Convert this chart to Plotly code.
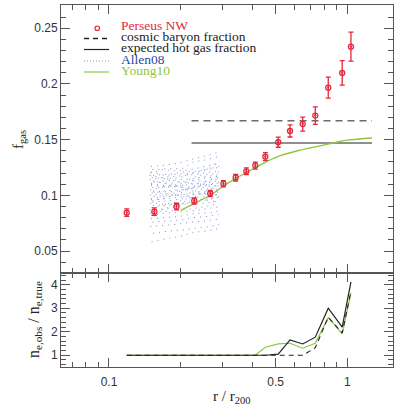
import plotly.graph_objects as go

# ---------------- data ----------------
R_NW = [0.1187, 0.155, 0.192, 0.228, 0.266, 0.302, 0.340, 0.377, 0.411, 0.453,
        0.513, 0.575, 0.650, 0.734, 0.832, 0.952, 1.036]
FGAS_NW = [0.0845, 0.0854, 0.0899, 0.0950, 0.1017, 0.1105, 0.1159, 0.1216, 0.1267,
           0.1347, 0.1477, 0.1578, 0.1640, 0.1716, 0.1967, 0.2099, 0.2335]
FGAS_ERR = [0.0033, 0.0033, 0.003, 0.0028, 0.0028, 0.0028, 0.003, 0.003, 0.0032,
            0.0036, 0.0045, 0.0054, 0.0063, 0.0078, 0.0094, 0.011, 0.013]

FLAT_R = [0.222, 1.27]
COSMIC_F = 0.167
HOTGAS_F = 0.147

YOUNG_R = [0.20, 0.23, 0.27, 0.30, 0.34, 0.38, 0.42, 0.46, 0.52, 0.63, 0.75, 0.87, 1.0, 1.27]
YOUNG_F = [0.0865, 0.093, 0.101, 0.108, 0.115, 0.121, 0.126, 0.1305, 0.1355, 0.1405,
           0.144, 0.147, 0.1495, 0.1515]

# Allen08 cluster profiles (radius points and f_gas per cluster)
ALLEN_R = [
    [0.150, 0.171, 0.196, 0.231, 0.262, 0.291],
    [0.152, 0.176, 0.203, 0.226, 0.258, 0.288],
    [0.149, 0.168, 0.192, 0.219, 0.254, 0.294],
    [0.153, 0.179, 0.207, 0.236, 0.266, 0.290],
    [0.151, 0.173, 0.199, 0.228, 0.260, 0.286],
    [0.148, 0.166, 0.188, 0.214, 0.249, 0.292],
    [0.154, 0.181, 0.210, 0.239, 0.269, 0.289],
    [0.150, 0.170, 0.195, 0.224, 0.257, 0.295],
]
ALLEN_F = [
    [0.126, 0.127, 0.129, 0.133, 0.136, 0.139],
    [0.123, 0.124, 0.124, 0.130, 0.132, 0.135],
    [0.120, 0.123, 0.122, 0.123, 0.126, 0.129],
    [0.118, 0.119, 0.121, 0.122, 0.124, 0.126],
    [0.116, 0.115, 0.116, 0.121, 0.123, 0.125],
    [0.114, 0.116, 0.117, 0.118, 0.120, 0.122],
    [0.112, 0.111, 0.113, 0.118, 0.119, 0.121],
    [0.111, 0.113, 0.114, 0.115, 0.117, 0.119],
    [0.109, 0.108, 0.110, 0.114, 0.116, 0.117],
    [0.107, 0.108, 0.109, 0.113, 0.113, 0.116],
    [0.105, 0.107, 0.108, 0.110, 0.112, 0.115],
    [0.104, 0.103, 0.105, 0.109, 0.110, 0.112],
    [0.102, 0.104, 0.105, 0.107, 0.109, 0.111],
    [0.100, 0.101, 0.102, 0.106, 0.107, 0.109],
    [0.099, 0.100, 0.101, 0.105, 0.106, 0.108],
    [0.097, 0.099, 0.100, 0.102, 0.104, 0.106],
    [0.096, 0.097, 0.098, 0.101, 0.102, 0.104],
    [0.094, 0.095, 0.097, 0.101, 0.101, 0.103],
    [0.093, 0.092, 0.094, 0.098, 0.099, 0.101],
    [0.091, 0.092, 0.093, 0.096, 0.097, 0.099],
    [0.089, 0.091, 0.092, 0.094, 0.096, 0.098],
    [0.087, 0.087, 0.089, 0.093, 0.093, 0.095],
    [0.085, 0.086, 0.087, 0.089, 0.091, 0.093],
    [0.082, 0.084, 0.085, 0.086, 0.088, 0.090],
    [0.079, 0.080, 0.081, 0.084, 0.084, 0.086],
    [0.076, 0.077, 0.078, 0.080, 0.081, 0.083],
    [0.072, 0.073, 0.074, 0.076, 0.077, 0.079],
    [0.066, 0.068, 0.069, 0.071, 0.072, 0.074],
    [0.058, 0.061, 0.063, 0.067, 0.068, 0.070],
    [0.118, 0.116, 0.113, 0.111, 0.110, 0.108],
    [0.103, 0.101, 0.099, 0.097, 0.095, 0.094],
    [0.110, 0.109, 0.108, 0.104, 0.102, 0.100],
    [0.121, 0.118, 0.119, 0.120, 0.124, 0.131],
    [0.095, 0.098, 0.103, 0.107, 0.111, 0.113],
    [0.084, 0.088, 0.091, 0.097, 0.104, 0.110],
    [0.113, 0.110, 0.107, 0.109, 0.114, 0.118],
]

RATIO_SOLID = [1, 1, 1, 1, 1, 1, 1, 1, 1, 1, 1.05, 1.65, 1.48, 1.77, 3.0, 2.2, 4.12]
RATIO_DASH = [1, 1, 1, 1, 1, 1, 1, 1, 1, 1, 1, 1, 1.0, 1.32, 2.62, 1.95, 3.72]
RATIO_YOUNG = [1, 1, 1, 1, 1, 1, 1, 1, 1, 1.34, 1.48, 1.51, 1.30, 1.51, 2.6, 1.91, 3.65]

X_MAJOR = [0.1, 0.5, 1]
X_MAJOR_TXT = ["0.1", "0.5", "1"]
X_MINOR = [0.07, 0.08, 0.09, 0.2, 0.3, 0.4, 0.6, 0.7, 0.8, 0.9]
Y_TOP_TICKS = [0.05, 0.1, 0.15, 0.2, 0.25]
Y_TOP_TXT = ["0.05", "0.1", "0.15", "0.2", "0.25"]
Y_BOT_TICKS = [1, 2, 3, 4]

# ---------------- colours ----------------
RED = "#e2283c"
GREEN = "#8dc63f"
BLUE_DOT = "#8393cc"
BLUE_TXT = "#2a4aa0"
GREY = "#6a6a6a"
AX = "#555555"

# ---------------- geometry (pixels) ----------------
W, H = 394, 406
ML, MR, MT, MB = 61, 1, 5, 39
PW, PH = W - ML - MR, H - MT - MB
SPLIT = (367 - 273) / PH


def px(xp):
    return (xp - ML) / PW


def py(yp):
    return (H - MB - yp) / PH


fig = go.Figure()

# Allen08 dotted profiles
ax_x, ax_y = [], []
for i, prof in enumerate(ALLEN_F):
    ax_x += ALLEN_R[i % len(ALLEN_R)] + [None]
    ax_y += prof + [None]
fig.add_trace(go.Scatter(x=ax_x, y=ax_y, mode="lines", xaxis="x2", yaxis="y2",
                         line=dict(color=BLUE_DOT, width=1, dash="1px,5px"),
                         connectgaps=False, showlegend=False))

# horizontal fractions
fig.add_trace(go.Scatter(x=FLAT_R, y=[COSMIC_F] * 2, mode="lines", xaxis="x2", yaxis="y2",
                         line=dict(color=GREY, width=1.6, dash="7px,5px"), showlegend=False))
fig.add_trace(go.Scatter(x=FLAT_R, y=[HOTGAS_F] * 2, mode="lines", xaxis="x2", yaxis="y2",
                         line=dict(color=GREY, width=1.4), showlegend=False))

# Young10
fig.add_trace(go.Scatter(x=YOUNG_R, y=YOUNG_F, mode="lines", xaxis="x2", yaxis="y2",
                         line=dict(color=GREEN, width=1.3, shape="spline"), showlegend=False))

# Perseus NW
fig.add_trace(go.Scatter(x=R_NW, y=FGAS_NW, mode="markers", xaxis="x2", yaxis="y2",
                         marker=dict(symbol="circle-open-dot", size=5, color=RED,
                                     line=dict(width=1.3, color=RED)),
                         error_y=dict(type="data", array=FGAS_ERR, color=RED,
                                      thickness=1.3, width=2.5),
                         showlegend=False))

# lower panel
fig.add_trace(go.Scatter(x=R_NW, y=RATIO_YOUNG, mode="lines", xaxis="x", yaxis="y",
                         line=dict(color=GREEN, width=1.2), showlegend=False))
fig.add_trace(go.Scatter(x=R_NW, y=RATIO_DASH, mode="lines", xaxis="x", yaxis="y",
                         line=dict(color="#222222", width=1.1, dash="5px,4px"), showlegend=False))
fig.add_trace(go.Scatter(x=R_NW, y=RATIO_SOLID, mode="lines", xaxis="x", yaxis="y",
                         line=dict(color="#222222", width=1.2), showlegend=False))

XR = [-1.2014, 0.1918]
tickfont = dict(family="Liberation Sans", size=12, color="#333333")

xcommon = dict(type="log", range=XR, autorange=False, automargin=False,
               ticks="inside", mirror="allticks", showline=True,
               linecolor=AX, linewidth=1, tickcolor=AX, ticklen=9, tickwidth=1,
               tickvals=X_MAJOR, showgrid=False, zeroline=False,
               minor=dict(tickvals=X_MINOR, ticklen=5, tickcolor=AX, ticks="inside"))

fig.update_layout(
    width=W, height=H, margin=dict(l=ML, r=MR, t=MT, b=MB, autoexpand=False),
    paper_bgcolor="white", plot_bgcolor="white", showlegend=False,
    xaxis=dict(**xcommon, anchor="y", ticktext=X_MAJOR_TXT, showticklabels=True,
               tickfont=tickfont, ticklabelstandoff=4),
    xaxis2=dict(**xcommon, anchor="y2", showticklabels=False),
    yaxis=dict(domain=[0, SPLIT], range=[0.5, 4.5], autorange=False, automargin=False,
               anchor="x", ticks="inside",
               mirror="allticks", showline=True, linecolor=AX, tickcolor=AX, ticklen=9,
               tickvals=Y_BOT_TICKS, tickfont=tickfont, showgrid=False, zeroline=False,
               minor=dict(dtick=0.2, ticklen=5, tickcolor=AX, ticks="inside")),
    yaxis2=dict(domain=[SPLIT, 1], range=[0.0303, 0.2709], autorange=False, automargin=False,
                anchor="x2", ticks="inside",
                mirror="allticks", showline=True, linecolor=AX, tickcolor=AX, ticklen=9,
                tickvals=Y_TOP_TICKS, ticktext=Y_TOP_TXT, tickfont=tickfont,
                showgrid=False, zeroline=False,
                minor=dict(dtick=0.01, ticklen=5, tickcolor=AX, ticks="inside")),
)

serif = "Liberation Serif"
ann = []
# axis titles
ann.append(dict(text="f<sub>gas</sub>", x=px(19), y=py(140), xref="paper", yref="paper",
                xanchor="center", yanchor="middle",
                showarrow=False, textangle=-90, font=dict(family=serif, size=15, color="#222")))
ann.append(dict(text="n<sub>e,obs</sub> / n<sub>e,true</sub>", x=px(34), y=py(320),
                xref="paper", yref="paper", xanchor="center", yanchor="middle",
                showarrow=False, textangle=-90,
                font=dict(family=serif, size=16, color="#222")))
ann.append(dict(text="r / r<sub>200</sub>", x=px(231), y=py(397), xref="paper", yref="paper",
                xanchor="center", yanchor="middle",
                showarrow=False, font=dict(family=serif, size=15, color="#222")))

# legend
leg = [("Perseus NW", RED, 25.7), ("cosmic baryon fraction", "#222222", 36.7),
       ("expected hot gas fraction", "#222222", 47.7), ("Allen08", BLUE_TXT, 59.3),
       ("Young10", GREEN, 70.7)]
for txt, col, yy in leg:
    ann.append(dict(text=txt, x=px(119), y=py(yy), xref="paper", yref="paper",
                    xanchor="left", yanchor="middle", showarrow=False,
                    font=dict(family=serif, size=13.5, color=col)))
fig.update_layout(annotations=ann)

shapes = [
    dict(type="circle", xref="paper", yref="paper", x0=px(95), x1=px(99.5), y0=py(30.5), y1=py(26),
         line=dict(color=RED, width=1.2)),
    dict(type="line", xref="paper", yref="paper", x0=px(84), x1=px(109), y0=py(38.5), y1=py(38.5),
         line=dict(color="#222222", width=1.3, dash="5px,4px")),
    dict(type="line", xref="paper", yref="paper", x0=px(84), x1=px(109), y0=py(49.5), y1=py(49.5),
         line=dict(color="#222222", width=1.2)),
    dict(type="line", xref="paper", yref="paper", x0=px(84), x1=px(109), y0=py(61), y1=py(61),
         line=dict(color=BLUE_DOT, width=1.2, dash="1px,2px")),
    dict(type="line", xref="paper", yref="paper", x0=px(84), x1=px(109), y0=py(72), y1=py(72),
         line=dict(color=GREEN, width=1.2)),
]
fig.update_layout(shapes=shapes)

fig.write_html("out.html")
